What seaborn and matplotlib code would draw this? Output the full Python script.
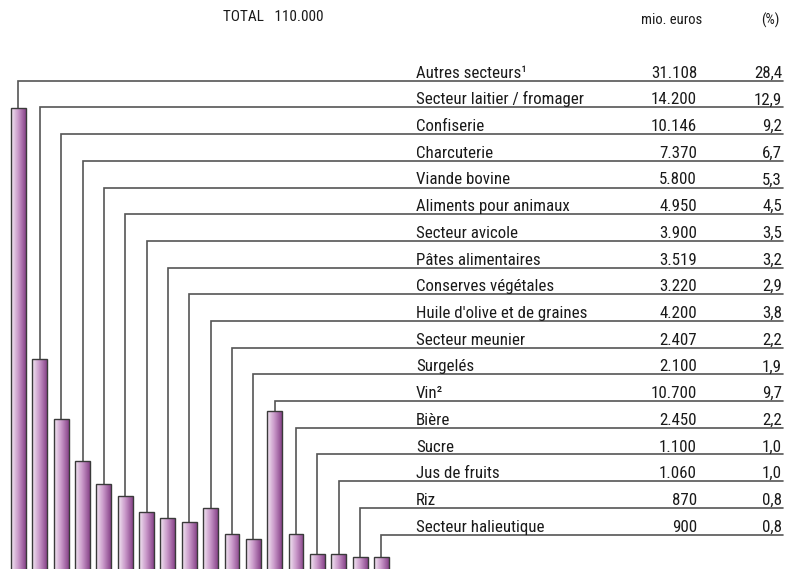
import matplotlib.pyplot as plt
import numpy as np
import pandas as pd
import seaborn as sns
from matplotlib.colors import LinearSegmentedColormap

plt.switch_backend("Agg")

sectors = [
    "Autres secteurs¹", "Secteur laitier / fromager", "Confiserie", "Charcuterie",
    "Viande bovine", "Aliments pour animaux", "Secteur avicole", "Pâtes alimentaires",
    "Conserves végétales", "Huile d'olive et de graines", "Secteur meunier", "Surgelés",
    "Vin²", "Bière", "Sucre", "Jus de fruits", "Riz", "Secteur halieutique",
]
values_mio = [31108, 14200, 10146, 7370, 5800, 4950, 3900, 3519, 3220,
              4200, 2407, 2100, 10700, 2450, 1100, 1060, 870, 900]
shares_pct = [28.4, 12.9, 9.2, 6.7, 5.3, 4.5, 3.5, 3.2, 2.9,
              3.8, 2.2, 1.9, 9.7, 2.2, 1.0, 1.0, 0.8, 0.8]
total_label = "TOTAL   110.000"
col_headers = ["mio. euros", "(%)"]

W, H = 793, 569
TEXT = "#1a1a1a"
LINE = "#555555"

sns.set_style("white")
plt.rcParams["font.family"] = ["Roboto Condensed", "DejaVu Sans"]
plt.rcParams["font.stretch"] = "condensed"

fig = plt.figure(figsize=(W / 100, H / 100), dpi=100)
ax = fig.add_axes([0, 0, 1, 1])

df = pd.DataFrame({"secteur": sectors, "valeur": values_mio})
sns.barplot(data=df, x="secteur", y="valeur", width=0.7, color="#b07ab0",
            edgecolor="#3a3a3a", linewidth=1.0, ax=ax)

# horizontal lilac gradient inside each bar
cmap = LinearSegmentedColormap.from_list("lilas", ["#f4e8f4", "#c897c8", "#88448a"])
gradient = np.linspace(0, 1, 64).reshape(1, -1)
for patch in ax.patches:
    x0, w, h = patch.get_x(), patch.get_width(), patch.get_height()
    im = ax.imshow(gradient, extent=(x0, x0 + w, 0, h), cmap=cmap,
                   aspect="auto", interpolation="bilinear", zorder=2)
    im.set_clip_path(patch)
    patch.set_facecolor("none")
    patch.set_zorder(3)

# map the figure in pixels onto the data scales
xlim = (-0.8665, 36.28)
ylim = (67, 38380)
ax.set_xlim(*xlim)
ax.set_ylim(*ylim)
ax.axis("off")


def px_y(py):
    return ylim[1] - py / H * (ylim[1] - ylim[0])


x_right = xlim[0] + 783 / W * (xlim[1] - xlim[0])

row0, row_step = 80.7, 26.7
for i, (name, val, pct) in enumerate(zip(sectors, values_mio, shares_pct)):
    ry = row0 + row_step * i
    y_line = px_y(ry)
    ax.plot([i, i, x_right], [val, y_line, y_line], color=LINE, lw=1.2,
            solid_joinstyle="miter", zorder=1)
    ty = 1 - (ry - 3) / H
    ax.text(416 / W, ty, name, transform=ax.transAxes, ha="left", va="baseline",
            fontsize=12.2, color=TEXT)
    ax.text(697 / W, ty, f"{val:,}".replace(",", "."), transform=ax.transAxes,
            ha="right", va="baseline", fontsize=12.2, color=TEXT)
    ax.text(782 / W, ty, f"{pct:.1f}".replace(".", ","), transform=ax.transAxes,
            ha="right", va="baseline", fontsize=12.2, color=TEXT)

ax.text(273 / W, 1 - 17 / H, total_label, transform=ax.transAxes, ha="center",
        va="center", fontsize=11, color=TEXT)
ax.text(672 / W, 1 - 20 / H, col_headers[0], transform=ax.transAxes, ha="center",
        va="center", fontsize=10.5, color=TEXT)
ax.text(770 / W, 1 - 20 / H, col_headers[1], transform=ax.transAxes, ha="center",
        va="center", fontsize=10.5, color=TEXT)

fig.savefig("out.png", dpi=100)
